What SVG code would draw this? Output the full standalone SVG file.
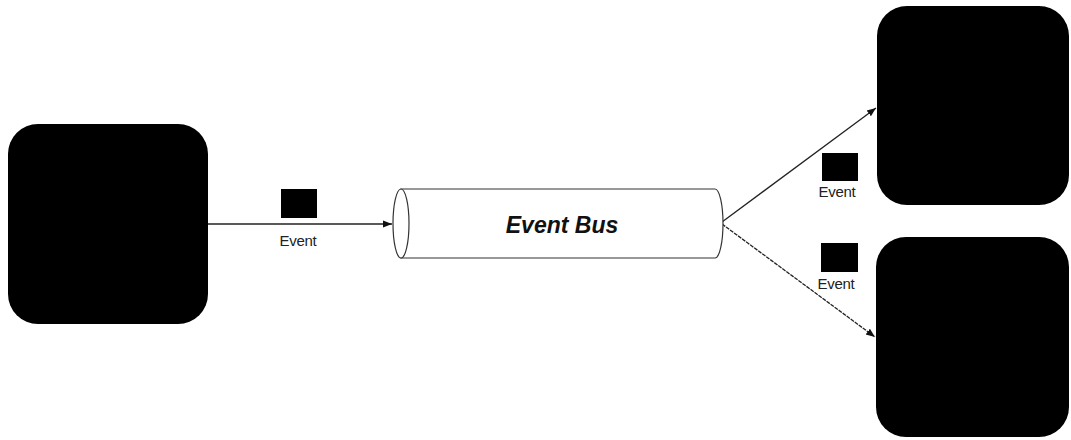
<svg xmlns="http://www.w3.org/2000/svg" width="1071" height="440" viewBox="0 0 1071 440">
<defs>
<style>
.box{fill:#000}
.ev{fill:#000}
.lbl{font-family:"Liberation Sans",Arial,sans-serif;font-size:15px;fill:#222;text-anchor:middle;letter-spacing:-0.3px}
.bus{font-family:"Liberation Sans",Arial,sans-serif;font-size:23px;font-weight:bold;font-style:italic;fill:#111;text-anchor:middle}
.conn{stroke:#222;stroke-width:1.3;fill:none}
.cyl{stroke:#333;stroke-width:1.2;fill:#fff}
</style>
<marker id="ah" viewBox="0 0 10 10" refX="10" refY="5" markerWidth="9" markerHeight="9" markerUnits="userSpaceOnUse" orient="auto">
<path d="M0,1 L10,5 L0,9 z" fill="#111"/>
</marker>
</defs>
<rect width="1071" height="440" fill="#fff"/>
<g id="connectors">
<line class="conn" x1="208" y1="224" x2="392" y2="224" marker-end="url(#ah)"/>
<line class="conn" x1="722" y1="222" x2="876" y2="108" marker-end="url(#ah)"/>
<line class="conn" x1="722" y1="224" x2="875" y2="337" stroke-dasharray="4 1" marker-end="url(#ah)"/>
</g>
<g id="producer">
<rect class="box" x="8" y="124" width="200" height="200" rx="30"/>
</g>
<g id="consumer-top">
<rect class="box" x="877" y="6" width="192" height="199" rx="30"/>
</g>
<g id="consumer-bottom">
<rect class="box" x="876" y="237" width="193" height="200" rx="30"/>
</g>
<g id="event-bus">
<path class="cyl" d="M401,189 H715 A8,34.5 0 0 1 715,258 H401 Z"/>
<ellipse class="cyl" cx="401" cy="223.5" rx="8" ry="34.5"/>
<text class="bus" x="562" y="233">Event Bus</text>
</g>
<g id="event-1">
<rect class="ev" x="281" y="189" width="36" height="29"/>
<text class="lbl" x="298" y="246">Event</text>
</g>
<g id="event-2">
<rect class="ev" x="822" y="153" width="36" height="28"/>
<text class="lbl" x="837" y="197">Event</text>
</g>
<g id="event-3">
<rect class="ev" x="821" y="243" width="37" height="29"/>
<text class="lbl" x="836" y="289">Event</text>
</g>
</svg>
